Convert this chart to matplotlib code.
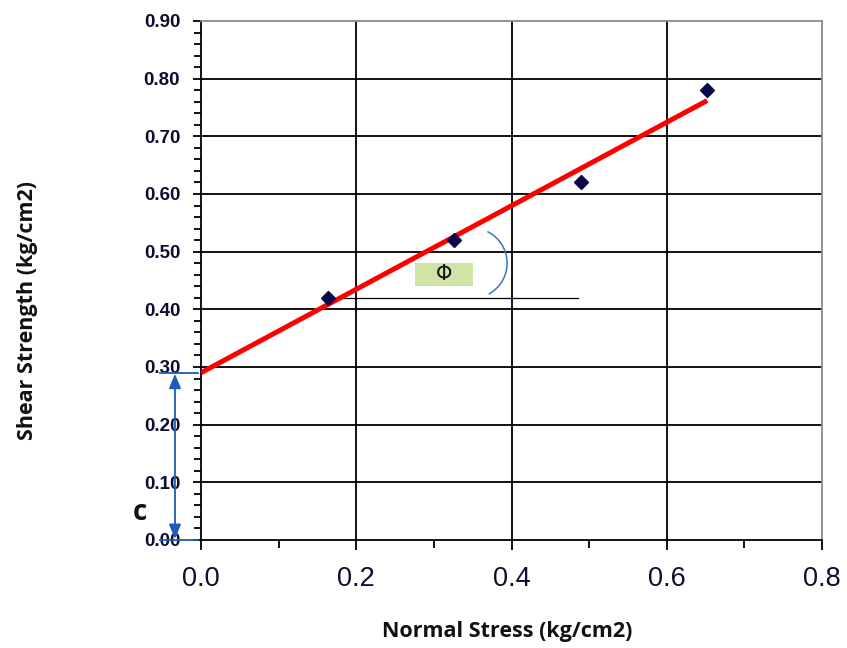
import numpy as np
import matplotlib.pyplot as plt
from matplotlib.patches import Arc, Rectangle

# Direct shear test results
normal_stress = [0.163, 0.326, 0.489, 0.652]   # kg/cm2
shear_strength = [0.42, 0.52, 0.62, 0.78]      # kg/cm2

x_ticks = [0.0, 0.2, 0.4, 0.6, 0.8]
y_ticks = [0.0, 0.1, 0.2, 0.3, 0.4, 0.5, 0.6, 0.7, 0.8, 0.9]

# Mohr-Coulomb envelope by least squares
slope, cohesion = np.polyfit(normal_stress, shear_strength, 1)
fit_x = np.array([0.0, max(normal_stress)])
fit_y = cohesion + slope * fit_x

fig = plt.figure(figsize=(8.47, 6.48), dpi=100)
ax = fig.add_axes([0.2373, 0.1667, 0.9705 - 0.2373, 0.9676 - 0.1667])

ax.set_xlim(0, 0.8)
ax.set_ylim(0, 0.9)

# grid
for y in y_ticks[1:-1]:
    ax.axhline(y, color='black', lw=1.3, zorder=1)
for x in x_ticks[1:-1]:
    ax.axvline(x, color='black', lw=1.3, zorder=1)

for s in ['top', 'right']:
    ax.spines[s].set_color('#8a8a8a')
    ax.spines[s].set_linewidth(1.3)
for s in ['left', 'bottom']:
    ax.spines[s].set_color('black')
    ax.spines[s].set_linewidth(1.3)

# horizontal reference for the friction angle
ax.plot([0.179, 0.486], [0.42, 0.42], color='black', lw=0.9, zorder=2)

ax.plot(fit_x, fit_y, color='#ff0000', lw=3.6, solid_capstyle='butt', zorder=3)
ax.plot(normal_stress, shear_strength, linestyle='none', marker='D',
        markersize=7, color='#0a0a4a', zorder=4)

# friction angle arc and label box
ax.add_patch(Arc((0.349, 0.480), 0.0907, 0.1221, theta1=-68, theta2=70,
                 color='#3b73c4', lw=1.1, zorder=3))
ax.add_patch(Rectangle((0.2757, 0.4405), 0.0748, 0.0395,
                       facecolor='#d0e4a6', edgecolor='none', zorder=2))
ax.text(0.313, 0.4605, '\u03a6', ha='center', va='center', fontsize=15,
        family='DejaVu Sans', color='#151515', zorder=5)

# cohesion dimension
blue = '#1f5bb8'
ax.plot([-0.053, -0.004], [cohesion, cohesion], color=blue, lw=1.3, clip_on=False)
ax.plot([-0.053, -0.004], [0.0, 0.0], color=blue, lw=1.3, clip_on=False)
ax.annotate('', xy=(-0.0335, 0.002), xytext=(-0.0335, cohesion - 0.002),
            arrowprops=dict(arrowstyle='<|-|>,head_length=0.62,head_width=0.26',
                            color=blue, lw=1.3, mutation_scale=14,
                            shrinkA=0, shrinkB=0),
            annotation_clip=False)
fig.text(140 / 847, 1 - 512 / 648, 'c', ha='center', va='center',
         fontsize=20, fontweight='bold', family='Open Sans', color='#111111')

ax.set_xticks(x_ticks)
ax.set_xticklabels(['0.0', '0.2', '0.4', '0.6', '0.8'])
ax.set_xticks([0.1, 0.3, 0.5, 0.7], minor=True)
ax.set_yticks(y_ticks)
ax.set_yticklabels(['%.2f' % v for v in y_ticks])
ax.set_yticks(np.arange(0, 0.9001, 0.02), minor=True)

ax.tick_params(axis='x', which='major', length=7, width=1.3, pad=12,
               labelsize=19.5, labelcolor='#0d0d30')
ax.tick_params(axis='x', which='minor', length=6, width=1.3)
ax.tick_params(axis='y', which='major', length=6, width=1.3, pad=9,
               labelsize=13.5, labelcolor='#0d0d30')
ax.tick_params(axis='y', which='minor', length=5, width=1.3)
for lbl in ax.get_yticklabels():
    lbl.set_fontweight('bold')
    lbl.set_family('Liberation Sans')
for lbl in ax.get_xticklabels():
    lbl.set_family('Liberation Sans')

fig.text(507 / 847, 1 - 632 / 648, 'Normal Stress (kg/cm2)', ha='center',
         va='center', fontsize=15.5, fontweight='bold', family='Open Sans',
         color='#111111')
fig.text(28 / 847, 1 - 310 / 648, 'Shear Strength (kg/cm2)', ha='center',
         va='center', rotation=90, fontsize=15.5, fontweight='bold',
         family='Open Sans', color='#111111')

fig.savefig('out.png', dpi=100)
